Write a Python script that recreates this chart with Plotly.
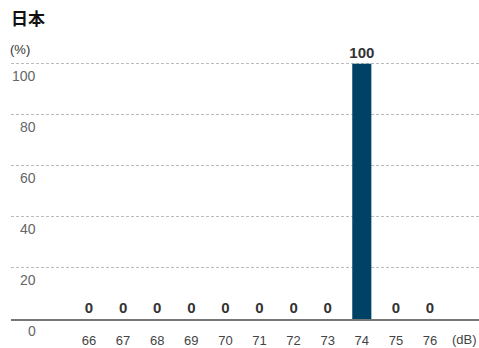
import plotly.graph_objects as go

categories = [66, 67, 68, 69, 70, 71, 72, 73, 74, 75, 76]
values = [0, 0, 0, 0, 0, 0, 0, 0, 100, 0, 0]
y_ticks = [0, 20, 40, 60, 80, 100]
title = "日本"
y_unit = "(%)"
x_unit = "(dB)"

W, H = 479, 348
ml, mr, mt, mb = 11, 0, 40, 26
pw = W - ml - mr

fig = go.Figure()
fig.add_trace(go.Bar(
    x=categories, y=values, width=0.56,
    marker=dict(color="#004166", line=dict(width=0)),
    text=[str(v) for v in values], textposition="outside",
    constraintext="none",
    textfont=dict(family="Liberation Sans, Arial, sans-serif", size=15, color="#333333"),
    texttemplate="<b>%{text}</b>",
    cliponaxis=False, hoverinfo="skip",
))

annotations = []
for t in y_ticks:
    annotations.append(dict(
        xref="paper", yref="y", x=(38 - ml) / pw, y=t,
        xanchor="right", yanchor="top", yshift=-2,
        text=str(t), showarrow=False,
        font=dict(family="Liberation Sans, Arial, sans-serif", size=14, color="#666666"),
    ))
annotations.append(dict(
    xref="paper", yref="paper", x=(9 - ml) / pw, y=1, yshift=8,
    xanchor="left", yanchor="bottom", text="<b>" + title + "</b>", showarrow=False,
    font=dict(family="Noto Sans CJK JP, sans-serif", size=17, color="#111111"),
))
annotations.append(dict(
    xref="paper", yref="paper", x=(8 - ml) / pw, y=1, yshift=-19,
    xanchor="left", yanchor="bottom", text=y_unit, showarrow=False,
    font=dict(family="Liberation Sans, Arial, sans-serif", size=13, color="#333333"),
))
annotations.append(dict(
    xref="paper", yref="paper", x=1, y=0, yshift=-11,
    xanchor="right", yanchor="top", text=x_unit, showarrow=False,
    font=dict(family="Liberation Sans, Arial, sans-serif", size=13, color="#444444"),
))

fig.update_layout(
    width=W, height=H,
    margin=dict(l=ml, r=mr, t=mt, b=mb, pad=0),
    paper_bgcolor="white", plot_bgcolor="white",
    showlegend=False,
    annotations=annotations,
    xaxis=dict(
        range=[66 - (89 - ml) / 34.1, 76 + (W - 430) / 34.1],
        tickvals=categories, ticktext=[str(c) for c in categories],
        ticks="outside", ticklen=8, tickcolor="rgba(0,0,0,0)",
        tickfont=dict(family="Liberation Sans, Arial, sans-serif", size=13, color="#444444"),
        showgrid=False, zeroline=False,
        showline=True, linecolor="#777777", linewidth=2,
    ),
    yaxis=dict(
        range=[0, 109.3], tickvals=y_ticks, showticklabels=False,
        showgrid=True, gridcolor="#bbbbbb", gridwidth=1, griddash="3px,2px",
        zeroline=False, showline=False,
    ),
)

fig.write_html("out.html")
